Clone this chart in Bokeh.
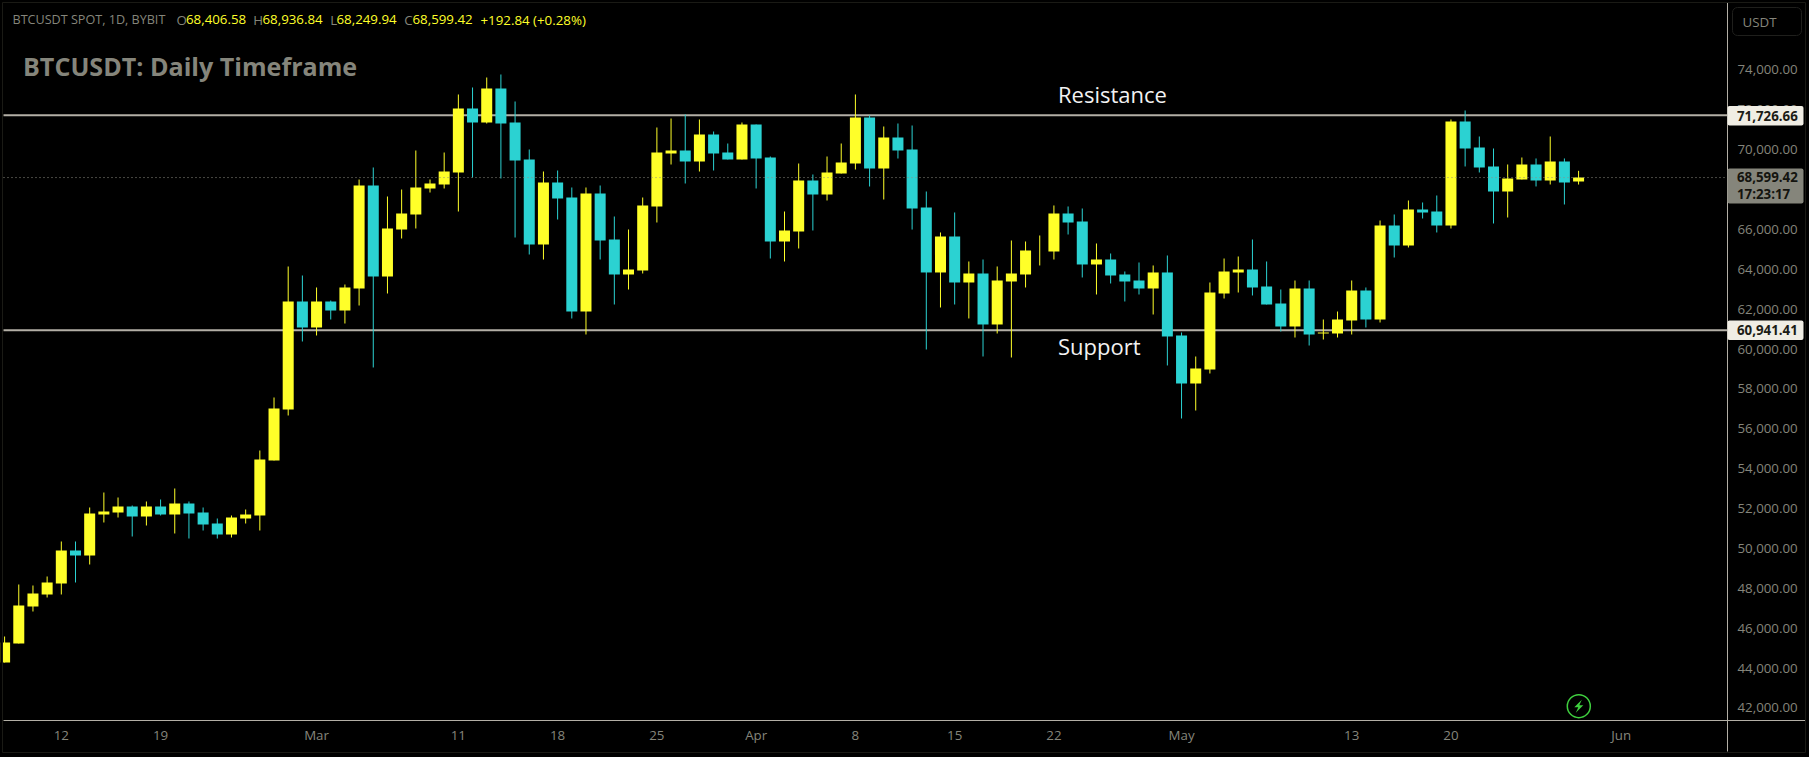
from bokeh.embed import file_html
from bokeh.resources import INLINE
from bokeh.plotting import figure
from bokeh.models import (ColumnDataSource, Range1d, FixedTicker, NumeralTickFormatter, Label,
                          BoxAnnotation, GlobalInlineStyleSheet)

symbol_line = "BTCUSDT SPOT, 1D, BYBIT"
chart_title = "BTCUSDT: Daily Timeframe"
resistance = 71726.66
support = 60941.41
last_price = 68599.42

opens = [44279,45232,47088,47690,48241,49896,49646,51702,51802,52103,51601,52103,51702,52253,51802,51250,50699,51501,51652,54410,
         56968,62384,61080,62384,61932,63036,68201,63637,65994,66747,68051,68251,68853,72063,71361,73066,71361,69505,65242,68352,
         67599,61882,67800,65493,63738,63938,67148,69806,69956,69405,70759,69856,69505,71260,69605,65393,65894,68452,67750,68803,
         69304,71611,69054,70608,70007,67098,63839,65644,63337,63788,61231,63387,63738,64942,64892,66797,66396,64240,64490,63738,
         63437,63036,63839,60679,58271,58973,62785,63838,63988,63136,62283,61130,63036,60779,60779,61431,62935,61481,66195,65192,
         66998,66897,66196,71411,70107,69155,67901,68503,69255,68452,69405,68406.58]
highs = [45583,48191,48141,48593,50348,50348,52053,52805,52554,52153,52354,52454,53006,52354,52053,51501,51652,51952,54911,57570,
         64139,63687,63086,62434,63236,68502,69104,67649,67999,69956,68502,69856,72765,73116,73617,73768,72414,70007,68903,68953,
         68101,68101,68201,66646,65995,67599,71110,71561,71762,71511,70909,70307,71361,71260,69655,66897,69304,68753,69655,70307,
         72765,71712,71160,71311,71210,67900,65845,66848,64390,64490,64140,65443,65393,65694,67199,67149,67048,65293,64791,63889,
         64340,64190,64691,60829,59625,63337,64540,64641,65493,64390,62986,63437,63437,61481,61882,63437,63086,66446,66747,67449,
         67349,67700,71512,71963,70659,70057,69255,69606,69556,70659,69556,68936.84]
lows = [44279,45232,46837,47539,47690,48292,49194,51301,51551,50598,51150,51652,50749,50498,50899,50498,50548,51250,50899,54410,
        56667,60378,60679,61481,61280,62183,59074,62785,65543,66045,67850,68051,66897,68602,71310,68552,65593,64741,64490,66496,
        61531,60729,64490,62233,62985,63788,66346,69254,68301,68903,68953,69505,69505,68051,64540,64390,65042,65944,67449,68803,
        69003,68151,67499,69555,65992,59977,62083,62234,61532,59626,60779,59576,63086,64190,64490,65744,63588,62735,63287,62384,
        62735,61732,59175,56516,56917,58773,62534,62835,62685,62233,60879,60578,60177,60478,60578,60729,61080,61331,64590,65092,
        66546,65845,66045,69155,68854,66296,66597,68503,68152,68252,67249,68249.94]
closes = [45282,47138,47740,48292,49896,49646,51752,51852,52103,51601,52103,51702,52253,51752,51200,50699,51551,51702,54460,57018,
          62384,61080,62384,61932,63086,68201,63637,66045,66797,68101,68301,68903,72063,71361,73066,71310,69455,65242,68352,67549,
          61882,67800,65443,63738,63988,67198,69856,69956,69405,70759,69806,69505,71260,69555,65393,65944,68452,67750,68853,69355,
          71611,69054,70608,69957,67048,63839,65644,63337,63788,61231,63437,63788,64942,64942,66797,66346,64240,64490,63688,63387,
          63036,63839,60629,58271,59024,62835,63888,63988,63086,62233,61130,63036,60729,60829,61481,62935,61481,66195,65192,66998,
          66847,66195,71411,70057,69104,67901,68553,69255,68452,69405,68352,68599.42]

x_tick_positions = [4, 11, 22, 32, 39, 46, 53, 60, 67, 74, 83, 95, 102, 114]
x_tick_labels = ["12", "19", "Mar", "11", "18", "25", "Apr", "8", "15", "22", "May", "13", "20", "Jun"]
y_ticks = list(range(42000, 76000, 2000))

YELLOW, CYAN = "#ffff29", "#2bd2d2"
GREY, LINE, TAG = "#85857b", "#b3afa6", "#f0ede4"
FONT = "Open Sans"

# canvas pixel -> data coordinate
def X(px):
    return (px - 4.1) / 14.18
def Y(py):
    return resistance + (114.7 - py) * 50.15

W, H = 1809, 757
FL, FR, FB = 3, 1727, 720
p = figure(width=W, height=H, output_backend="svg", toolbar_location=None, tools="",
           x_range=Range1d(X(0), X(W)), y_range=Range1d(Y(H), Y(0)),
           y_axis_location="right", background_fill_color="#000000", border_fill_color="#000000",
           outline_line_color=None, min_border_left=0, min_border_right=0,
           min_border_top=0, min_border_bottom=0)
p.stylesheets = [GlobalInlineStyleSheet(css="html,body{margin:0;padding:0;background:#000;overflow:hidden}")]
p.grid.visible = False

for ax in (p.xaxis[0], p.yaxis[0]):
    ax.major_tick_line_color = None
    ax.minor_tick_line_color = None
    ax.major_tick_out = 0
    ax.major_tick_in = 0
    ax.axis_line_color = LINE
    ax.axis_line_width = 1
    ax.major_label_text_color = GREY
    ax.major_label_text_font = FONT
    ax.major_label_text_font_size = "13.3px"
p.xaxis[0].major_label_standoff = 5
p.yaxis[0].major_label_standoff = 10
p.xaxis[0].fixed_location = Y(FB)
p.yaxis[0].fixed_location = X(FR)
p.xaxis[0].bounds = (X(FL), X(1805))
p.yaxis[0].bounds = (Y(751), Y(2))
p.xaxis[0].ticker = FixedTicker(ticks=x_tick_positions)
p.xaxis[0].major_label_overrides = dict(zip(x_tick_positions, x_tick_labels))
p.yaxis[0].ticker = FixedTicker(ticks=y_ticks)
p.yaxis[0].formatter = NumeralTickFormatter(format="0,0.00")

for level_price in (resistance, support):
    p.segment([X(FL)], [level_price], [X(FR)], [level_price], line_color=LINE, line_width=2)

idx = list(range(len(opens)))
colors = [YELLOW if c >= o else CYAN for o, c in zip(opens, closes)]
src = ColumnDataSource(dict(x=idx, o=opens, h=highs, l=lows, c=closes, color=colors))
p.segment("x", "h", "x", "l", source=src, line_color="color", line_width=1)
p.vbar("x", top="o", bottom="c", width=0.776, source=src, fill_color="color", line_color=None)

p.segment([X(FL)], [last_price], [X(FR)], [last_price], line_color="#8f8f85", line_width=1, line_dash="1 3")

def box(l, t, r, b, fill=None, line=None, radius=0):
    p.add_layout(BoxAnnotation(left=l, right=r, top=t, bottom=b, left_units="canvas", right_units="canvas",
                               top_units="canvas", bottom_units="canvas",
                               fill_color=fill, fill_alpha=1 if fill else 0,
                               line_color=line, line_alpha=1, border_radius=radius, level="annotation"))

def label(px, py, text, color=GREY, size=13.3, style="normal", align="left"):
    p.add_layout(Label(x=px, y=py, x_units="canvas", y_units="canvas", text=text, text_color=color, text_font=FONT,
                       text_font_size=f"{size}px", text_font_style=style,
                       text_align=align, text_baseline="middle"))

# left edge of the pane (the first candle is cut there) and outer frame
box(0, 0, 2.5, H, "#000000")
box(2, 2, 1805, 752, None, "#1a1a15")
# currency button
box(1732, 7, 1801, 35, None, "#1f1f1c", 5)
label(1742, 21, "USDT")

# header
label(12, 19, symbol_line, size=12.6)
for px, t in [(176, "O"), (252.7, "H"), (329.7, "L"), (403.7, "C")]:
    label(px, 19, t)
for px, t in [(185.5, "68,406.58"), (262, "68,936.84"), (336, "68,249.94"), (412, "68,599.42"),
              (480, "+192.84 (+0.28%)")]:
    label(px, 19, t, color=YELLOW)
label(22.5, 65, chart_title, size=25.1, style="bold")
label(1057.5, 93.5, "Resistance", color="#f2f2f2", size=22)
label(1057.5, 345.5, "Support", color="#f2f2f2", size=22)

# price tags
box(1727, 105.5, 1803, 125, TAG, None, 2)
box(1727, 320, 1803, 339.5, TAG, None, 2)
box(1727, 168, 1803, 203, GREY, None, 2)
label(1736.5, 115, "71,726.66", color="#1c1c16", style="bold")
label(1736.5, 329.7, "60,941.41", color="#1c1c16", style="bold")
label(1736.5, 176.5, "68,599.42", color="#14140f", style="bold")
label(1736.5, 193, "17:23:17", color="#14140f", style="bold")

# lightning icon
p.scatter([X(1578.3)], [Y(705.7)], size=23, marker="circle", fill_color=None, line_color="#3fcf3f", line_width=1.5)
bolt = [(3, -6.5), (-4.5, 1), (-0.5, 1), (-3, 6.5), (4.5, -1), (0.5, -1)]
p.patch([X(1578.3 + a) for a, b in bolt], [Y(705.7 + b) for a, b in bolt], fill_color="#3fcf3f", line_color=None)

open("out.html", "w").write(file_html(p, INLINE))
